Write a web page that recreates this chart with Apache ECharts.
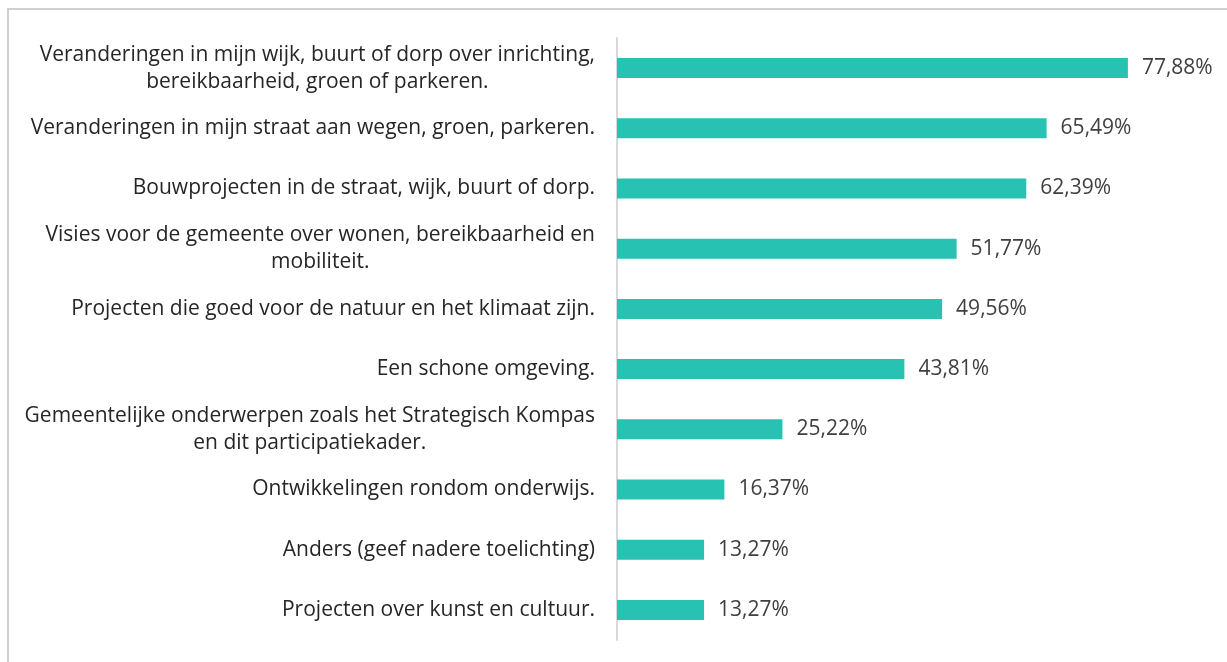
<!DOCTYPE html>
<html>
<head>
<meta charset="utf-8">
<script src="https://cdn.jsdelivr.net/npm/echarts@6/dist/echarts.min.js"></script>
<style>
html,body{margin:0;padding:0;background:#fff;}
#chart{width:1227px;height:662px;}
</style>
</head>
<body>
<div id="chart"></div>
<script>
const categories = [
  "Veranderingen in mijn wijk, buurt of dorp over inrichting,\nbereikbaarheid, groen of parkeren.",
  "Veranderingen in mijn straat aan wegen, groen, parkeren.",
  "Bouwprojecten in de straat, wijk, buurt of dorp.",
  "Visies voor de gemeente over wonen, bereikbaarheid en\nmobiliteit.",
  "Projecten die goed voor de natuur en het klimaat zijn.",
  "Een schone omgeving.",
  "Gemeentelijke onderwerpen zoals het Strategisch Kompas\nen dit participatiekader.",
  "Ontwikkelingen rondom onderwijs.",
  "Anders (geef nadere toelichting)",
  "Projecten over kunst en cultuur."
];
const values = [77.88, 65.49, 62.39, 51.77, 49.56, 43.81, 25.22, 16.37, 13.27, 13.27];

const FONT = 'Open Sans';
const chart = echarts.init(document.getElementById('chart'), null, {renderer: 'canvas'});
chart.setOption({
  animation: false,
  backgroundColor: '#ffffff',
  graphic: [{
    type: 'rect',
    shape: {x: 8, y: 9, width: 1400, height: 800},
    style: {fill: 'none', stroke: '#D0D0D0', lineWidth: 2},
    silent: true
  }],
  grid: {left: 617, right: 19.6, top: 38, bottom: 22, containLabel: false},
  xAxis: {
    type: 'value', min: 0, max: 90,
    show: false
  },
  yAxis: {
    type: 'category',
    inverse: true,
    data: categories,
    axisLine: {show: true, lineStyle: {color: '#D9D9D9', width: 2}},
    axisTick: {show: false},
    splitLine: {show: false},
    axisLabel: {
      margin: 22,
      align: 'right',
      formatter: function (v) { return '{c|' + v.split('\n').join('}\n{c|') + '}'; },
      rich: {
        c: {align: 'center', fontFamily: FONT, fontSize: 21, color: '#262626', lineHeight: 27}
      }
    }
  },
  series: [{
    type: 'bar',
    data: values,
    barWidth: 20,
    itemStyle: {color: '#27C2B2'},
    label: {
      show: true,
      position: 'right',
      distance: 14,
      fontFamily: FONT,
      fontSize: 21,
      color: '#404040',
      formatter: function (p) { return p.value.toFixed(2).replace('.', ',') + '%'; }
    }
  }]
});
</script>
</body>
</html>
